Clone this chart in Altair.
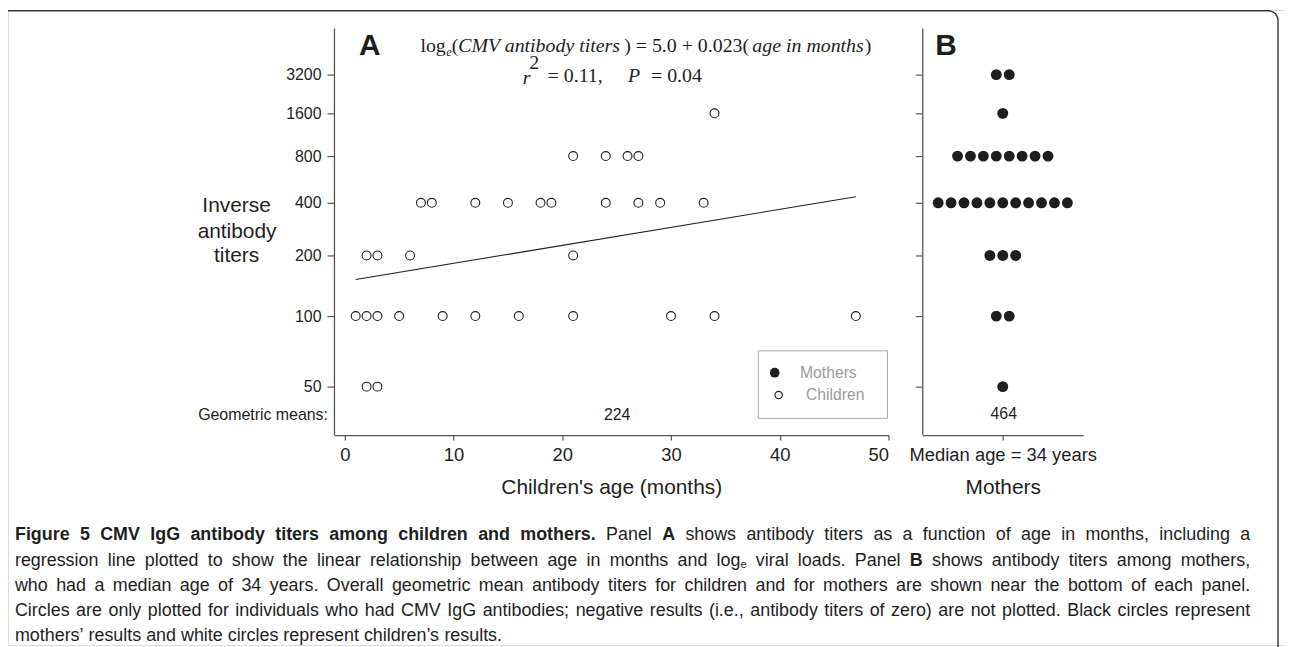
import altair as alt
import pandas as pd

# ---------------- data ----------------
child_age = [2, 3,
             1, 2, 3, 5, 9, 12, 16, 21, 30, 34, 47,
             2, 3, 6, 21,
             7, 8, 12, 15, 18, 19, 24, 27, 29, 33,
             21, 24, 26, 27,
             34]
child_titer = ([50] * 2 + [100] * 11 + [200] * 4 + [400] * 10 + [800] * 4 + [1600])
mother_titer = ([3200] * 2 + [1600] + [800] * 8 + [400] * 11 + [200] * 3 + [100] * 2 + [50])
reg_age = [1, 47]
reg_intercept = 5.0
reg_slope = 0.023
y_ticks = [50, 100, 200, 400, 800, 1600, 3200]
x_ticks = [0, 10, 20, 30, 40, 50]
geo_mean_children = "224"
geo_mean_mothers = "464"

caption_lines = [
    [("Figure 5 CMV IgG antibody titers among children and mothers.", "b"), ("Panel", "n"), ("A", "b"),
     ("shows antibody titers as a function of age in months, including a", "n")],
    [("regression line plotted to show the linear relationship between age in months and log", "n"),
     ("e", "sub"), ("viral loads. Panel", "n"), ("B", "b"), ("shows antibody titers among mothers,", "n")],
    [("who had a median age of 34 years. Overall geometric mean antibody titers for children and for "
      "mothers are shown near the bottom of each panel.", "n")],
    [("Circles are only plotted for individuals who had CMV IgG antibodies; negative results (i.e., "
      "antibody titers of zero) are not plotted. Black circles represent", "n")],
    [("mothers\u2019 results and white circles represent children\u2019s results.", "n")],
]

W, H = 1284, 639
OFF = 8  # page margin: page coordinate -> plot coordinate


def P(v):
    return v - OFF


SANS = "Liberation Sans"
SERIF = "Liberation Serif"
DARK = "#1e1e1e"
AXC = "#555555"

# y scale: log scale with the figure's own tick spacing
y_scale = alt.Scale(type="log", nice=False,
                    domain=[31, 50, 100, 200, 400, 800, 1600, 3200, 7370],
                    range=[P(435), P(387), P(316), P(255), P(202), P(155), P(112), P(73), P(26)])
xA_scale = alt.Scale(domain=[-1, 50], range=[P(336), P(894)], nice=False, zero=False)
xB_scale = alt.Scale(domain=[-6.23, 6.23], range=[P(928), P(1090)], nice=False, zero=False)

X_AXIS_OFFSET = P(435.7) - H

common_axis = dict(grid=False, domainColor=AXC, tickColor=AXC, domainWidth=1.3, tickWidth=1.2,
                   labelFont=SANS, labelColor=DARK, titleFont=SANS, titleColor=DARK,
                   titleFontWeight="normal", labelLimit=400)

yA_axis = alt.Axis(values=y_ticks, format="d", orient="left", offset=-P(336), tickSize=7,
                   labelFontSize=16, labelPadding=6, title=None, **common_axis)
yB_axis = alt.Axis(values=y_ticks, labels=False, orient="left", offset=-P(928), tickSize=7,
                   title=None, **common_axis)
xA_axis = alt.Axis(values=x_ticks, format="d", orient="bottom", offset=X_AXIS_OFFSET, tickSize=5,
                   labelFontSize=18.5, labelPadding=6, title="Children's age (months)",
                   titleFontSize=21, titlePadding=12, **common_axis)
xB_axis = alt.Axis(values=[0], labelExpr="'Median age = 34 years'", orient="bottom",
                   offset=X_AXIS_OFFSET, tickSize=5, labelFontSize=18.5, labelPadding=6,
                   title="Mothers", titleFontSize=21, titlePadding=12, **common_axis)

df_children = pd.DataFrame({"age": child_age, "titer": child_titer})
df_reg = pd.DataFrame({"age": reg_age})
df_mothers = pd.DataFrame({"titer": mother_titer})

children = alt.Chart(df_children).mark_point(
    shape="circle", filled=False, color=DARK, size=80, strokeWidth=1.1, opacity=1
).encode(
    x=alt.X("age:Q", scale=xA_scale, axis=xA_axis),
    y=alt.Y("titer:Q", scale=y_scale, axis=yA_axis),
)

regline = alt.Chart(df_reg).transform_calculate(
    titer=f"exp({reg_intercept} + {reg_slope} * datum.age)"
).mark_line(color=DARK, strokeWidth=1.1).encode(
    x=alt.X("age:Q", scale=xA_scale, axis=xA_axis),
    y=alt.Y("titer:Q", scale=y_scale, axis=yA_axis),
)

mothers = alt.Chart(df_mothers).transform_window(
    rank="row_number()", groupby=["titer"]
).transform_joinaggregate(
    n="count()", groupby=["titer"]
).transform_calculate(
    slot="datum.rank - (datum.n + 1) / 2"
).mark_point(shape="circle", filled=True, color=DARK, size=120, opacity=1).encode(
    x=alt.X("slot:Q", scale=xB_scale, axis=xB_axis),
    y=alt.Y("titer:Q", scale=y_scale, axis=yB_axis),
)


def txt(s, x, y, size=16, font=SANS, weight="normal", style="normal", align="left",
        color=DARK, baseline="middle"):
    return alt.Chart(alt.Data(values=[{"t": s}])).mark_text(
        font=font, fontSize=size, fontWeight=weight, fontStyle=style, align=align,
        baseline=baseline, color=color
    ).encode(text="t:N", x=alt.value(P(x)), y=alt.value(P(y)))


one = alt.Data(values=[{"a": 1}])

frame = alt.Chart(one).mark_rect(
    fill="white", fillOpacity=0, stroke="#333333", strokeWidth=1.4, cornerRadius=10
).encode(x=alt.value(-30), x2=alt.value(P(1286)), y=alt.value(P(8.7)), y2=alt.value(900))

legend_box = alt.Chart(one).mark_rect(
    fill="white", stroke="#a8a8a8", strokeWidth=1
).encode(x=alt.value(P(763)), x2=alt.value(P(893)), y=alt.value(P(351)), y2=alt.value(P(419)))
legend_m = alt.Chart(one).mark_point(shape="circle", filled=True, color=DARK, size=95, opacity=1).encode(
    x=alt.value(P(779.5)), y=alt.value(P(373)))
legend_c = alt.Chart(one).mark_point(shape="circle", filled=False, color=DARK, size=55,
                                     strokeWidth=1.1, opacity=1).encode(
    x=alt.value(P(783.5)), y=alt.value(P(395.5)))

GRAY = "#9a9a9a"
EQ = 20
texts = [
    txt("Mothers", 805, 373, size=15.8, color=GRAY),
    txt("Children", 811, 395.5, size=15.8, color=GRAY),
    txt("A", 372, 44, size=30, weight="bold", align="center"),
    txt("B", 952, 44, size=30, weight="bold", align="center"),
    # regression equation
    txt("log", 423, 44, size=EQ, font=SERIF),
    txt("e", 449, 50, size=12.5, font=SERIF, style="italic"),
    txt("(", 454.5, 44, size=EQ, font=SERIF),
    txt("CMV  antibody titers", 461, 44, size=EQ, font=SERIF, style="italic"),
    txt(")  =  5.0  +  0.023(", 628, 44, size=EQ, font=SERIF),
    txt("age in months", 757, 44, size=EQ, font=SERIF, style="italic"),
    txt(")", 870, 44, size=EQ, font=SERIF),
    txt("r", 526, 76, size=EQ, font=SERIF, style="italic"),
    txt("2", 532.5, 61, size=EQ, font=SERIF),
    txt("=  0.11,", 551, 74, size=EQ, font=SERIF),
    txt("P", 632, 74, size=EQ, font=SERIF, style="italic"),
    txt("=  0.04", 655, 74, size=EQ, font=SERIF),
    # y title
    txt("Inverse", 238, 205, size=21, align="center"),
    txt("antibody", 238.5, 231, size=21, align="center"),
    txt("titers", 238, 256, size=21, align="center"),
    # geometric means
    txt("Geometric means:", 330, 415.5, size=16, align="right"),
    txt(geo_mean_children, 621, 415.5, size=16, align="center"),
    txt(geo_mean_mothers, 1010, 414.5, size=16, align="center"),
]

# ---------------- justified caption (Liberation Sans = Arial metrics) ----------------
_n = {" ": 278, "!": 278, "'": 191, "(": 333, ")": 333, ",": 278, "-": 333, ".": 278, ":": 278,
      ";": 278, "=": 584, "\u2019": 222}
_n.update({c: 556 for c in "0123456789"})
_n.update(dict(zip("ABCDEFGHIJKLMNOPQRSTUVWXYZ",
                   [667, 667, 722, 722, 667, 611, 778, 722, 278, 500, 667, 556, 833, 722, 778, 667,
                    778, 722, 667, 611, 722, 667, 944, 667, 667, 611])))
_n.update(dict(zip("abcdefghijklmnopqrstuvwxyz",
                   [556, 556, 500, 556, 556, 278, 556, 556, 222, 222, 500, 222, 833, 556, 556, 556,
                    556, 333, 500, 278, 556, 500, 722, 500, 500, 500])))
_b = {" ": 278, "!": 333, "'": 238, "(": 333, ")": 333, ",": 278, "-": 333, ".": 278, ":": 333,
      ";": 333, "=": 584, "\u2019": 278}
_b.update({c: 556 for c in "0123456789"})
_b.update(dict(zip("ABCDEFGHIJKLMNOPQRSTUVWXYZ",
                   [722, 722, 722, 722, 667, 611, 778, 722, 278, 556, 722, 611, 833, 722, 778, 667,
                    778, 722, 667, 611, 722, 667, 944, 667, 667, 611])))
_b.update(dict(zip("abcdefghijklmnopqrstuvwxyz",
                   [556, 611, 556, 611, 556, 333, 611, 611, 278, 278, 556, 278, 889, 611, 611, 611,
                    611, 389, 556, 333, 611, 556, 778, 556, 556, 500])))


def em(s, bold=False):
    t = _b if bold else _n
    return sum(t.get(c, 556) for c in s) / 1000.0


CAP_X0, CAP_X1 = 15, 1258
CAP_Y = [536, 562, 588, 613, 638]
SUB = 0.62

# tokens per line
tok_lines = []
for runs in caption_lines:
    toks = []
    for text, st in runs:
        if st == "sub":
            toks.append((text, st, True))
        else:
            for w in text.split(" "):
                toks.append((w, st, False))
    tok_lines.append(toks)


def natural(toks, fs):
    w = 0.0
    gaps = 0
    for i, (t, st, att) in enumerate(toks):
        if st == "sub":
            w += em(t) * fs * SUB
        else:
            w += em(t, st == "b") * fs
        if i > 0 and not att:
            gaps += 1
    return w, gaps


# font size: widest justified line fits the column with a little slack
CS = min(18.0, min((CAP_X1 - CAP_X0) / ((natural(tl, 1.0)[0] + natural(tl, 1.0)[1] * 0.278) * 1.02)
                   for tl in tok_lines[:4]))

rows = []
for li, toks in enumerate(tok_lines):
    w, gaps = natural(toks, CS)
    space = 0.278 * CS
    if li < len(tok_lines) - 1 and gaps > 0:
        space = (CAP_X1 - CAP_X0 - w) / gaps
    x = CAP_X0
    for i, (t, st, att) in enumerate(toks):
        if i > 0 and not att:
            x += space
        rows.append({"w": t, "st": st, "x": P(x), "y": P(CAP_Y[li] + (5 if st == "sub" else 0))})
        if st == "sub":
            x += em(t) * CS * SUB
        else:
            x += em(t, st == "b") * CS

df_cap = pd.DataFrame(rows)


def cap_layer(st, size, weight):
    return alt.Chart(df_cap[df_cap["st"] == st]).mark_text(
        font=SANS, fontSize=size, fontWeight=weight, align="left", baseline="middle", color=DARK
    ).encode(x=alt.X("x:Q", scale=None), y=alt.Y("y:Q", scale=None), text="w:N")


cap = [cap_layer("n", CS, "normal"), cap_layer("b", CS, "bold"), cap_layer("sub", CS * SUB, "normal")]

panelA = alt.layer(children, regline)

chart = alt.layer(
    frame, panelA, mothers, legend_box, legend_m, legend_c, *texts, *cap
).resolve_scale(x="independent", y="independent").properties(
    width=W, height=H, padding=0, autosize=alt.AutoSizeParams(type="none")
).configure_view(stroke=None).configure(background="white")

chart.save("out.html", embed_options={"renderer": "svg", "actions": False})
